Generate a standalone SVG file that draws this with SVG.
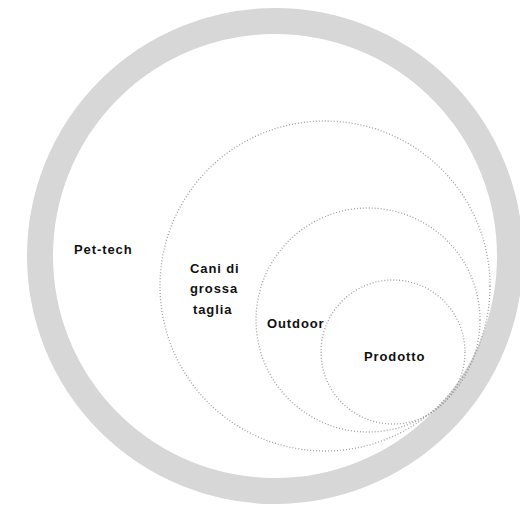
<svg xmlns="http://www.w3.org/2000/svg" width="520" height="507" viewBox="0 0 520 507">
  <style>
    .ring { fill: #ffffff; stroke: #d7d7d7; stroke-width: 26; }
    .dot { fill: none; stroke: #9e9e9e; stroke-width: 1.3; stroke-dasharray: 1 2; }
    .lbl { font-family: "Liberation Sans", Arial, sans-serif; font-weight: bold; font-size: 13px; letter-spacing: 0.9px; fill: #111111; }
  </style>
  <rect x="0" y="0" width="520" height="507" fill="#ffffff"/>
  <g id="pet-tech">
    <circle class="ring" cx="275" cy="256" r="235"/>
    <text class="lbl" x="74" y="254">Pet-tech</text>
  </g>
  <g id="cani-di-grossa-taglia">
    <circle class="dot" cx="325" cy="286" r="165"/>
    <text class="lbl" x="190" y="272.5">Cani di</text>
    <text class="lbl" x="190" y="293">grossa</text>
    <text class="lbl" x="193" y="313.5">taglia</text>
  </g>
  <g id="outdoor">
    <circle class="dot" cx="368" cy="320" r="112"/>
    <text class="lbl" x="267" y="327.5">Outdoor</text>
  </g>
  <g id="prodotto">
    <circle class="dot" cx="393" cy="352" r="72"/>
    <text class="lbl" x="364" y="360.5">Prodotto</text>
  </g>
  <g id="connectors"/>
</svg>
